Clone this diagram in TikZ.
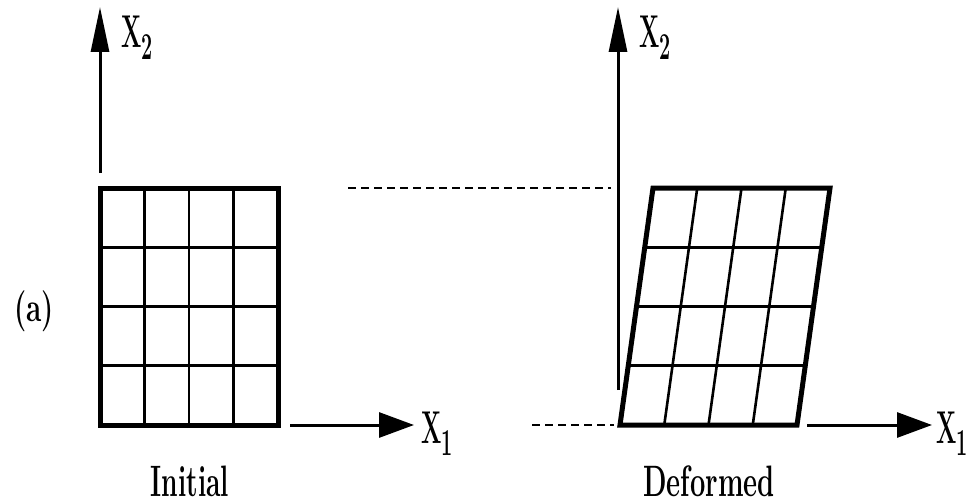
\documentclass[tikz,border=0pt]{standalone}
\usetikzlibrary{arrows.meta}
\begin{document}
\begin{tikzpicture}[x=1pt,y=-1pt,
  frame/.style={line width=5pt,line join=miter},
  gridline/.style={line width=2.6pt},
  axis/.style={line width=3pt},
  vaxis/.style={axis,-{Triangle[length=45pt,width=18pt]}},
  haxis/.style={axis,-{Triangle[length=35pt,width=25pt]}},
  guide/.style={line width=2.8pt,dash pattern=on 8pt off 5pt},
  lbl/.style={inner sep=0pt,font=\fontsize{46}{48}\selectfont\bfseries},
  captext/.style={inner sep=0pt,anchor=base,font=\fontsize{44}{46}\selectfont\bfseries}]
\useasboundingbox (0,0) rectangle (974,503);
% ---------- initial grid ----------
\coordinate (iBL) at (100,425);
\coordinate (iBR) at (278,425);
\coordinate (iTR) at (278,188);
\coordinate (iTL) at (100,188);
\foreach \i in {1,2,3}{
  \draw[gridline] (100+44.5*\i,188) -- (100+44.5*\i,425);
  \draw[gridline] (100,188+59.25*\i) -- (278,188+59.25*\i);
}
\draw[frame] (iBL) -- (iBR) -- (iTR) -- (iTL) -- cycle;
% axes of initial
\coordinate (iV0) at (100,173);
\coordinate (iV1) at (100,7);
\draw[vaxis] (iV0) -- (iV1);
\coordinate (iH0) at (290,425);
\coordinate (iH1) at (414,425);
\draw[haxis] (iH0) -- (iH1);
\node[lbl,anchor=base west] (iX2) at (121,48) {\scalebox{0.52}[1]{X\raisebox{-12pt}{\fontsize{38}{40}\selectfont 2}}};
\node[lbl,anchor=base west] (iX1) at (421,443) {\scalebox{0.52}[1]{X\raisebox{-12pt}{\fontsize{38}{40}\selectfont 1}}};
\node[captext] (init) at (190,496) {\scalebox{0.6}[1]{Initial}};
\node[lbl,anchor=base west,font=\fontsize{41}{43}\selectfont\bfseries] (lbla) at (14,321) {\scalebox{0.68}[1]{(a)}};
% ---------- deformed grid ----------
\coordinate (dBL) at (620,425);
\coordinate (dBR) at (797,425);
\coordinate (dTR) at (830,188);
\coordinate (dTL) at (653,188);
\foreach \i in {1,2,3}{
  \draw[gridline] (620+44.25*\i,425) -- (653+44.25*\i,188);
  \draw[gridline] ({620+33*\i/4},425-59.25*\i) -- ({797+33*\i/4},425-59.25*\i);
}
\draw[frame] (dBL) -- (dBR) -- (dTR) -- (dTL) -- cycle;
% axes of deformed
\coordinate (dV0) at (618,390);
\coordinate (dV1) at (618,7);
\draw[vaxis] (dV0) -- (dV1);
\coordinate (dH0) at (807,425);
\coordinate (dH1) at (932,425);
\draw[haxis] (dH0) -- (dH1);
\node[lbl,anchor=base west] (dX2) at (639,48) {\scalebox{0.52}[1]{X\raisebox{-12pt}{\fontsize{38}{40}\selectfont 2}}};
\node[lbl,anchor=base west] (dX1) at (936,443) {\scalebox{0.52}[1]{X\raisebox{-12pt}{\fontsize{38}{40}\selectfont 1}}};
\node[captext] (def) at (709,496) {\scalebox{0.62}[1]{Deformed}};
% ---------- dashed guides ----------
\coordinate (g1a) at (348,188);
\coordinate (g1b) at (611,188);
\draw[guide] (g1a) -- (g1b);
\coordinate (g2a) at (532,425);
\coordinate (g2b) at (614,425);
\draw[guide] (g2a) -- (g2b);
\end{tikzpicture}
\end{document}
